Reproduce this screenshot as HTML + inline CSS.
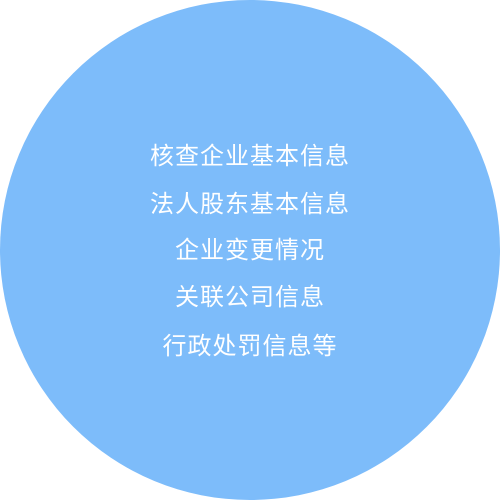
<!DOCTYPE html>
<html><head><meta charset="utf-8"><style>
html,body{margin:0;padding:0;width:500px;height:500px;background:#fff;overflow:hidden}
#c{position:absolute;left:0;top:0;width:500px;height:500px;border-radius:50%;background:#7dbcfa}
.t{position:absolute;left:0;width:500px;text-align:center;color:#fff;font-size:24px;line-height:30px;font-family:"Liberation Sans","Noto Sans CJK SC",sans-serif;letter-spacing:1px}
</style></head><body>
<div id="c"></div>
<div class="t" style="top:142px">核查企业基本信息</div>
<div class="t" style="top:190px">法人股东基本信息</div>
<div class="t" style="top:236px">企业变更情况</div>
<div class="t" style="top:283px">关联公司信息</div>
<div class="t" style="top:332px">行政处罚信息等</div>
</body></html>
